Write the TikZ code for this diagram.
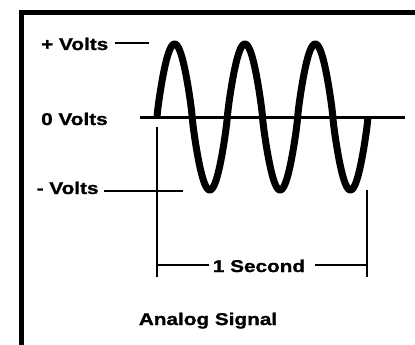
\documentclass[tikz,border=0pt]{standalone}
\usepackage{fontspec}
\newfontfamily\labfont{Liberation Sans}[FakeStretch=1.22,FakeBold=1.2]
\begin{document}
\begin{tikzpicture}[x=1pt,y=-1pt,
  lab/.style={inner sep=0pt,font=\labfont\bfseries\fontsize{17}{19}\selectfont},
  tick/.style={line width=1.8pt},
  brk/.style={line width=2.4pt}]
\useasboundingbox (0,0) rectangle (415,345);
% frame
\draw[line width=4.5pt] (21.5,345) -- (21.5,12.5) -- (415,12.5);
% labels
\node[lab,anchor=base west] (plus) at (41,50) {+ Volts};
\node[lab,anchor=base west] (zero) at (41,125) {0 Volts};
\node[lab,anchor=base west] (minus) at (36.5,194) {- Volts};
\coordinate (plusend) at (149,43);
\coordinate (minusend) at (183,191);
\draw[tick] ([xshift=7pt]plus.east |- plusend) -- (plusend);
\draw[tick] ([xshift=5pt]minus.east |- minusend) -- (minusend);
% zero axis
\coordinate (axl) at (140,117);
\coordinate (axr) at (405,117);
\draw[line width=3pt] (axl) -- (axr);
% wave (slightly broadened sine)
\draw[line width=7pt,line join=round] plot[domain=0:211,samples=300,smooth]
  ({157+\x},{117-73*sign(sin(\x/70.33*360))*pow(abs(sin(\x/70.33*360)),0.85)});
% bracket
\coordinate (bl) at (157,265);
\coordinate (br) at (367,265);
\coordinate (bltop) at (157,127);
\coordinate (blbot) at (157,277);
\coordinate (brtop) at (367,190);
\coordinate (brbot) at (367,277);
\node[lab,anchor=base] (sec) at (259,272) {1 Second};
\draw[brk] (bltop) -- (blbot);
\draw[brk] (brtop) -- (brbot);
\draw[brk] (bl) -- ([xshift=-4pt]sec.west |- bl);
\draw[brk] ([xshift=10pt]sec.east |- br) -- (br);
% title
\node[lab,anchor=base] (title) at (208,325) {Analog Signal};
\end{tikzpicture}
\end{document}
